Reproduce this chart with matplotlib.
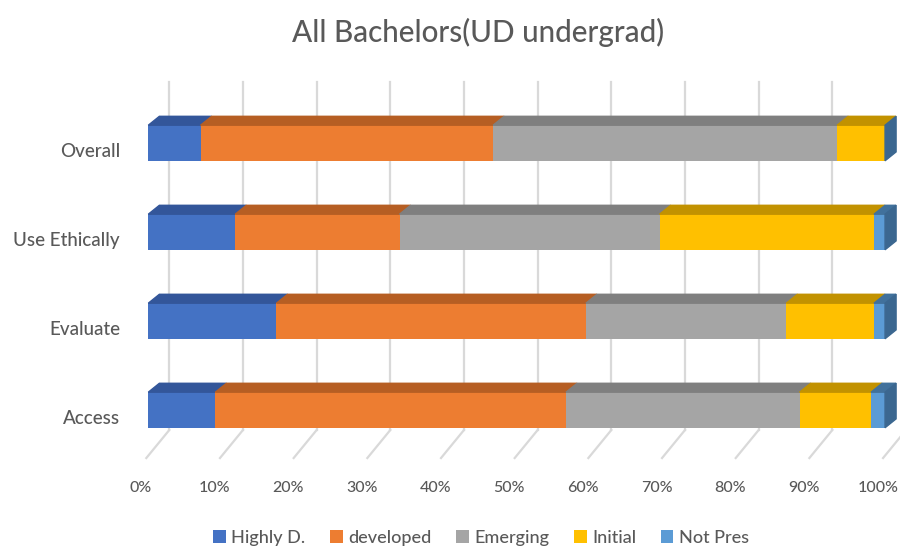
import matplotlib.pyplot as plt
from matplotlib.patches import Polygon, Patch
import numpy as np

plt.rcParams['font.family'] = ['Lato', 'DejaVu Sans']

categories = ['Overall', 'Use Ethically', 'Evaluate', 'Access']
series = ['Highly D.', 'developed', 'Emerging', 'Initial', 'Not Pres']
highly_d = [7.1, 11.8, 17.4, 9.1]
developed = [39.7, 22.3, 42.0, 47.6]
emerging = [46.7, 35.3, 27.2, 31.7]
initial = [6.5, 29.1, 11.9, 9.7]
not_pres = [0.0, 1.5, 1.5, 1.9]
ticks = [0, 10, 20, 30, 40, 50, 60, 70, 80, 90, 100]

front = ['#4472C4', '#ED7D31', '#A5A5A5', '#FFC000', '#5B9BD5']
top = ['#33569A', '#B65E23', '#7F7F7F', '#C29200', '#41719C']
side = '#3B6790'
grid = '#D9D9D9'
txt = '#595959'

fig = plt.figure(figsize=(9, 5.48), dpi=100)
ax = fig.add_axes([0, 0, 1, 1])
# map data (percent, category index) onto the picture's pixel layout
ax.set_xlim(-20.13, 102.03)
ax.set_ylim(4.551, -1.607)
ax.axis('off')

h = 0.40          # bar front height (category units)
bdx, bdy = 1.5, 0.10      # bar depth offset
wdx = 2.85                # back wall offset
wall_top = (82 - 143) / 89
floor_back = 3.225
floor_front = 3.54
fdx = -0.27

# back wall gridlines and floor lines
for t in ticks:
    ax.plot([t + wdx, t + wdx], [wall_top, floor_back], color=grid, lw=1.6, zorder=0)
    ax.plot([t + wdx, t + fdx], [floor_back, floor_front], color=grid, lw=1.6, zorder=0)
    ax.text(t - 1.0, 3.876, f'{t}%', ha='center', va='center', fontsize=11.5, color=txt,
            fontweight='medium')

data = [highly_d, developed, emerging, initial, not_pres]
y = np.arange(len(categories))
left = np.zeros(len(categories))
for k, vals in enumerate(data):
    vals = np.array(vals)
    ax.barh(y, vals, left=left, height=h, color=front[k], zorder=2)
    for i in range(len(categories)):
        if vals[i] <= 0:
            continue
        l, r = left[i], left[i] + vals[i]
        yt = y[i] - h / 2
        ax.add_patch(Polygon([(l, yt), (r, yt), (r + bdx, yt - bdy), (l + bdx, yt - bdy)],
                             closed=True, color=top[k], zorder=2))
    left = left + vals

# right side faces
for i in range(len(categories)):
    r = left[i]
    yt, yb = y[i] - h / 2, y[i] + h / 2
    ax.add_patch(Polygon([(r, yt), (r + bdx, yt - bdy), (r + bdx, yb - bdy), (r, yb)],
                         closed=True, color=side, zorder=2))

for i, c in enumerate(categories):
    ax.text(-3.84, y[i] + 0.1, c, ha='right', va='center', fontsize=13.5, color=txt,
            fontweight='medium')

fig.text(478 / 900, 1 - 32 / 548, 'All Bachelors(UD undergrad)', ha='center', va='center',
         fontsize=21.3, color=txt, fontweight='medium')

handles = [Patch(facecolor=front[k], label=series[k]) for k in range(len(series))]
fig.legend(handles=handles, loc='center', bbox_to_anchor=(481 / 900, 1 - 538 / 548), ncol=5,
           frameon=False, prop={'size': 13, 'weight': 'medium'}, handlelength=0.7,
           handleheight=0.7, handletextpad=0.3, columnspacing=1.37, labelcolor=txt)

fig.savefig('out.png', dpi=100)
